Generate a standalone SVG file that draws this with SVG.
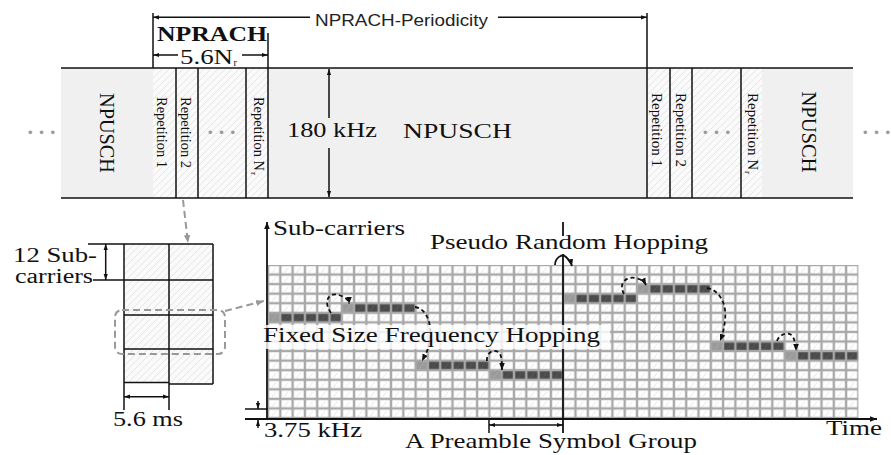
<svg xmlns="http://www.w3.org/2000/svg" width="891" height="455" viewBox="0 0 891 455">
<style>
.s{font-family:"Liberation Serif","Times New Roman",serif;fill:#111;}
.ss{font-family:"Liberation Sans",Arial,sans-serif;fill:#222;}
.dots{font-family:"Liberation Sans",Arial,sans-serif;fill:#999;font-size:13px;}
.ln{stroke:#111;stroke-width:1.5;fill:none;}
.ax{stroke:#111;stroke-width:1.8;fill:none;}
.dash{stroke:#111;stroke-width:1.8;stroke-dasharray:4 3;fill:none;}
.gdash{stroke:#999;stroke-width:2;stroke-dasharray:7 4;fill:none;}
</style>
<defs>
<marker id="ah" viewBox="0 0 10 10" refX="10" refY="5" markerWidth="7" markerHeight="7" markerUnits="userSpaceOnUse" orient="auto-start-reverse"><path d="M0,1 L10,5 L0,9 z" fill="#111" stroke="none"/></marker>
<marker id="ahs" viewBox="0 0 10 10" refX="10" refY="5" markerWidth="6" markerHeight="6" markerUnits="userSpaceOnUse" orient="auto-start-reverse"><path d="M0,1.5 L10,5 L0,8.5 z" fill="#111" stroke="none"/></marker>
<marker id="ahg" viewBox="0 0 10 10" refX="10" refY="5" markerWidth="8" markerHeight="8" markerUnits="userSpaceOnUse" orient="auto"><path d="M0,1 L10,5 L0,9 z" fill="#999" stroke="none"/></marker>
<pattern id="hatch" patternUnits="userSpaceOnUse" width="7" height="7"><rect width="7" height="7" fill="#fafafa"/><path d="M-1,1 L1,-1 M0,7 L7,0 M6,8 L8,6" stroke="#e0e0e0" stroke-width="0.8"/></pattern>
<pattern id="cell" patternUnits="userSpaceOnUse" x="268" y="265" width="12.3" height="9.5625"><rect width="12.3" height="9.5625" fill="#a8a8a8"/><rect x="1.2" y="1.2" width="9.9" height="7.16" fill="#fff"/><path d="M4 7.6 L8 2.6" stroke="#dcdcdc" stroke-width="0.8"/></pattern>
<pattern id="dk" patternUnits="userSpaceOnUse" x="268" y="265" width="12.3" height="9.5625"><rect width="12.3" height="9.5625" fill="#a8a8a8"/><rect x="1.2" y="1.2" width="9.9" height="7.16" fill="#4a4a4a"/><path d="M4 7.6 L8 2.6" stroke="#5e5e5e" stroke-width="0.8"/></pattern>
<pattern id="lt" patternUnits="userSpaceOnUse" x="268" y="265" width="12.3" height="9.5625"><rect width="12.3" height="9.5625" fill="#a8a8a8"/><rect x="1.2" y="1.2" width="9.9" height="7.16" fill="#9a9a9a"/><path d="M4 7.6 L8 2.6" stroke="#aaa" stroke-width="0.8"/></pattern>
</defs>
<rect width="891" height="455" fill="#fff"/>

<!-- Top band -->
<g id="band">
<rect x="61" y="68" width="792" height="130" fill="#f0f0f0"/>
<rect x="153" y="68" width="115" height="130" fill="url(#hatch)"/>
<rect x="647" y="68" width="115" height="130" fill="url(#hatch)"/>
<line class="ln" x1="61" y1="68" x2="853" y2="68"/>
<line class="ln" x1="61" y1="198" x2="853" y2="198"/>
<line class="ln" x1="176" y1="68" x2="176" y2="198"/>
<line class="ln" x1="198" y1="68" x2="198" y2="198"/>
<line class="ln" x1="246" y1="68" x2="246" y2="198"/>
<line class="ln" x1="268" y1="33" x2="268" y2="198"/>
<line class="ln" x1="153" y1="13" x2="153" y2="68"/>
<line class="ln" x1="647" y1="13" x2="647" y2="198"/>
<line class="ln" x1="670" y1="68" x2="670" y2="198"/>
<line class="ln" x1="692" y1="68" x2="692" y2="198"/>
<line class="ln" x1="741" y1="68" x2="741" y2="198"/>
<text class="dots" x="28" y="137" textLength="27" lengthAdjust="spacing">• • •</text>
<text class="dots" x="863" y="137" textLength="27" lengthAdjust="spacing">• • •</text>
<text class="dots" x="208" y="137" textLength="27" lengthAdjust="spacing">• • •</text>
<text class="dots" x="703" y="137" textLength="27" lengthAdjust="spacing">• • •</text>
<text class="s" font-size="20" transform="translate(100,133) rotate(90)" text-anchor="middle" textLength="80" lengthAdjust="spacingAndGlyphs">NPUSCH</text>
<text class="s" font-size="20" transform="translate(802,132) rotate(90)" text-anchor="middle" textLength="81" lengthAdjust="spacingAndGlyphs">NPUSCH</text>
<text class="s" font-size="14" transform="translate(157,97) rotate(90)" textLength="71" lengthAdjust="spacingAndGlyphs">Repetition 1</text>
<text class="s" font-size="14" transform="translate(181,97) rotate(90)" textLength="71" lengthAdjust="spacingAndGlyphs">Repetition 2</text>
<text class="s" font-size="14" transform="translate(254,97) rotate(90)" textLength="74" lengthAdjust="spacingAndGlyphs">Repetition N</text>
<text class="s" font-size="9" transform="translate(251,172) rotate(90)">r</text>
<text class="s" font-size="14" transform="translate(652,93) rotate(90)" textLength="74" lengthAdjust="spacingAndGlyphs">Repetition 1</text>
<text class="s" font-size="14" transform="translate(676,93) rotate(90)" textLength="74" lengthAdjust="spacingAndGlyphs">Repetition 2</text>
<text class="s" font-size="14" transform="translate(748,93) rotate(90)" textLength="77" lengthAdjust="spacingAndGlyphs">Repetition N</text>
<text class="s" font-size="9" transform="translate(745,171) rotate(90)">r</text>
<text class="s" font-size="20" x="287" y="137" textLength="90" lengthAdjust="spacingAndGlyphs">180 kHz</text>
<text class="s" font-size="20" x="403" y="138" textLength="109" lengthAdjust="spacingAndGlyphs">NPUSCH</text>
</g>

<g id="nprach-label">
<text class="s" font-size="21" font-weight="bold" x="157" y="40.5" textLength="110" lengthAdjust="spacingAndGlyphs">NPRACH</text>
<text class="s" font-size="21" x="180" y="63.5" textLength="53" lengthAdjust="spacingAndGlyphs">5.6N</text>
<text class="s" font-size="10" x="233.5" y="66">r</text>
</g>

<g id="periodicity-label">
<text class="ss" font-size="17" x="315" y="25.5" textLength="173" lengthAdjust="spacingAndGlyphs">NPRACH-Periodicity</text>
</g>

<!-- Small resource grid -->
<g id="small-grid">
<rect x="124" y="244" width="45" height="138.5" fill="url(#hatch)"/>
<rect x="169" y="244" width="44" height="140" fill="url(#hatch)"/>
<line class="ln" x1="88" y1="244" x2="213" y2="244"/>
<line class="ln" x1="93" y1="280" x2="213" y2="280"/>
<line class="ln" x1="124" y1="315" x2="213" y2="315"/>
<line class="ln" x1="124" y1="349" x2="213" y2="349"/>
<line class="ln" x1="124" y1="382.5" x2="169" y2="382.5"/>
<line class="ln" x1="169" y1="384" x2="213" y2="384"/>
<line class="ln" x1="124" y1="244" x2="124" y2="410"/>
<line class="ln" x1="169" y1="244" x2="169" y2="410"/>
<line class="ln" x1="213" y1="244" x2="213" y2="384"/>
<rect class="gdash" x="115" y="310" width="110" height="44" rx="7"/>
<text class="s" font-size="20" x="13" y="261.5" textLength="84" lengthAdjust="spacingAndGlyphs">12 Sub-</text>
<text class="s" font-size="20" x="15" y="283" textLength="78" lengthAdjust="spacingAndGlyphs">carriers</text>
<text class="s" font-size="20" x="113" y="426" textLength="70" lengthAdjust="spacingAndGlyphs">5.6 ms</text>
</g>

<!-- Main time-frequency grid -->
<g id="main-grid">
<rect x="268" y="265" width="590.4" height="153" fill="url(#cell)"/>
<rect x="268" y="312.8125" width="12.3" height="9.5625" fill="url(#lt)"/>
<rect x="280.3" y="312.8125" width="61.5" height="9.5625" fill="url(#dk)"/>
<rect x="341.8" y="303.25" width="12.3" height="9.5625" fill="url(#lt)"/>
<rect x="354.1" y="303.25" width="61.5" height="9.5625" fill="url(#dk)"/>
<rect x="415.6" y="360.625" width="12.3" height="9.5625" fill="url(#lt)"/>
<rect x="427.9" y="360.625" width="61.5" height="9.5625" fill="url(#dk)"/>
<rect x="489.4" y="370.1875" width="12.3" height="9.5625" fill="url(#lt)"/>
<rect x="501.7" y="370.1875" width="61.5" height="9.5625" fill="url(#dk)"/>
<rect x="563.2" y="293.6875" width="12.3" height="9.5625" fill="url(#lt)"/>
<rect x="575.5" y="293.6875" width="61.5" height="9.5625" fill="url(#dk)"/>
<rect x="637" y="284.125" width="12.3" height="9.5625" fill="url(#lt)"/>
<rect x="649.3" y="284.125" width="61.5" height="9.5625" fill="url(#dk)"/>
<rect x="710.8" y="341.5" width="12.3" height="9.5625" fill="url(#lt)"/>
<rect x="723.1" y="341.5" width="61.5" height="9.5625" fill="url(#dk)"/>
<rect x="784.6" y="351.0625" width="12.3" height="9.5625" fill="url(#lt)"/>
<rect x="796.9" y="351.0625" width="61.5" height="9.5625" fill="url(#dk)"/>
</g>

<!-- Connectors -->
<g id="connectors">
<line class="ln" x1="153" y1="17.3" x2="310" y2="17.3" marker-start="url(#ahs)"/>
<line class="ln" x1="498" y1="17.3" x2="647" y2="17.3" marker-end="url(#ahs)"/>
<line class="ln" x1="153" y1="55" x2="178" y2="55" marker-start="url(#ahs)"/>
<line class="ln" x1="242" y1="55" x2="268" y2="55" marker-end="url(#ahs)"/>
<line class="ln" x1="329" y1="69" x2="329" y2="118" marker-start="url(#ahs)"/>
<line class="ln" x1="329" y1="148" x2="329" y2="197" marker-end="url(#ahs)"/>
<line class="gdash" x1="183" y1="200" x2="188" y2="243" marker-end="url(#ahg)"/>
<line class="gdash" x1="225" y1="311" x2="264" y2="301" marker-end="url(#ahg)"/>
<line class="ln" x1="105.7" y1="244" x2="105.7" y2="280" marker-start="url(#ahs)" marker-end="url(#ahs)"/>
<line class="ln" x1="124" y1="396.7" x2="169" y2="396.7" marker-start="url(#ahs)" marker-end="url(#ahs)"/>
<line class="ax" x1="267" y1="419" x2="267" y2="222" marker-end="url(#ah)"/>
<line class="ax" x1="245" y1="419" x2="877" y2="419" marker-end="url(#ah)"/>
<line class="ln" x1="245" y1="409" x2="268" y2="409"/>
<line class="ln" x1="258" y1="401" x2="258" y2="409" marker-end="url(#ahs)"/>
<line class="ln" x1="258" y1="428" x2="258" y2="420" marker-end="url(#ahs)"/>
<line class="ax" x1="563" y1="222" x2="563" y2="433"/>
<line class="ln" x1="489" y1="420" x2="489" y2="433"/>
<line class="ln" x1="489" y1="425" x2="563" y2="425" marker-start="url(#ahs)" marker-end="url(#ahs)"/>
<path class="dash" d="M331 313 C322 300,330 292,339 295 C345 297,349 300,349 304" marker-end="url(#ah)"/>
<path class="dash" d="M415 307 C429 309,433 330,429 345 C427 353,424 357,422 361" marker-end="url(#ah)"/>
<path class="dash" d="M487 361 C486 351,496 348,500 354 C502 358,502 364,502 370" marker-end="url(#ah)"/>
<path class="ax" d="M555 265 C555 258,562 253,566 257 C569 260,571 262,572 266" marker-end="url(#ah)"/>
<path class="dash" d="M624 294 C618 284,626 276,635 278 C641 279,644 281,646 285" marker-end="url(#ah)"/>
<path class="dash" d="M707 288 C720 290,727 305,725 320 C724 330,722 336,720 341" marker-end="url(#ah)"/>
<path class="dash" d="M777 341 C780 333,790 331,793 337 C795 341,796 346,796 351" marker-end="url(#ah)"/>
</g>

<!-- Grid labels -->
<g id="grid-labels">
<text class="s" font-size="20" x="273" y="235" textLength="132" lengthAdjust="spacingAndGlyphs">Sub-carriers</text>
<rect x="428" y="236" width="282" height="18" fill="#fff"/>
<text class="s" font-size="21" x="430" y="248.5" textLength="278" lengthAdjust="spacingAndGlyphs">Pseudo Random Hopping</text>
<rect x="262" y="325" width="348" height="24" fill="#fff" fill-opacity="0.8"/>
<text class="s" font-size="21" x="263" y="342" textLength="337" lengthAdjust="spacingAndGlyphs">Fixed Size Frequency Hopping</text>
<text class="s" font-size="20" x="264" y="436.5" textLength="98" lengthAdjust="spacingAndGlyphs">3.75 kHz</text>
<text class="s" font-size="21" x="405" y="447.5" textLength="292" lengthAdjust="spacingAndGlyphs">A Preamble Symbol Group</text>
<text class="s" font-size="20" x="826" y="435" textLength="56" lengthAdjust="spacingAndGlyphs">Time</text>
</g>
</svg>
